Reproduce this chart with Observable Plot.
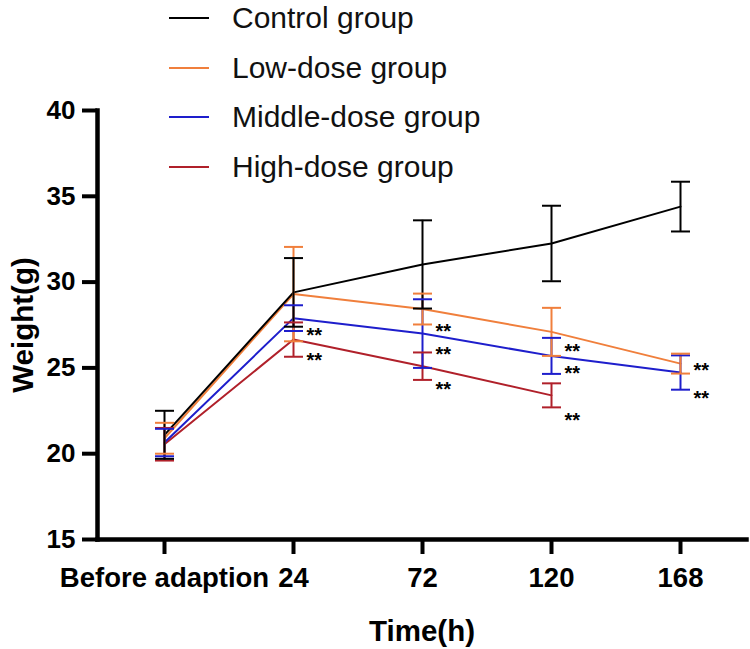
<!DOCTYPE html>
<html>
<head>
<meta charset="utf-8">
<script src="https://cdn.jsdelivr.net/npm/d3@7"></script>
<script src="https://cdn.jsdelivr.net/npm/@observablehq/plot@0.6"></script>
<style>
  html, body { margin: 0; padding: 0; background: #fff; }
  #wrap { position: relative; width: 750px; height: 649px; font-family: "Liberation Sans", Arial, sans-serif; }
  #legend { position: absolute; left: 169px; top: -7px; }
  .row { display: flex; align-items: center; height: 49.7px; }
  .sw { width: 40px; height: 2px; margin-right: 23px; }
  .lab { font-size: 30px; color: #111; white-space: nowrap; }
  [aria-label="x-axis label"] text, [aria-label="y-axis label"] text { font-size: 29.5px; }
</style>
</head>
<body>
<div id="wrap"></div>
<script>
const times = ["Before adaption", "24", "72", "120", "168"];
const groups = ["Control group", "Low-dose group", "Middle-dose group", "High-dose group"];
const colors = ["#000000", "#F07F3C", "#1E1ECC", "#B0202A"];

const controlMean = [21.1, 29.4, 31.03, 32.25, 34.4];
const controlSD   = [1.4, 2.0, 2.57, 2.2, 1.45];
const lowMean     = [20.9, 29.3, 28.43, 27.1, 25.25];
const lowSD       = [0.9, 2.75, 0.9, 1.4, 0.58];
const middleMean  = [20.65, 27.9, 27.0, 25.7, 24.73];
const middleSD    = [0.8, 0.75, 2.0, 1.05, 1.0];
const highMean    = [20.55, 26.65, 25.1, 23.4];
const highSD      = [0.95, 1.0, 0.8, 0.7];

const starTimes  = ["24", "24", "72", "72", "72", "120", "120", "120", "168", "168"];
const starValues = [27.18, 25.72, 27.41, 26.07, 24.03, 26.25, 24.97, 22.23, 25.14, 23.5];

const yTicks = [15, 20, 25, 30, 35, 40];

// Build rows; drawing order High -> Middle -> Low -> Control (Control on top)
const series = [
  [groups[3], highMean, highSD],
  [groups[2], middleMean, middleSD],
  [groups[1], lowMean, lowSD],
  [groups[0], controlMean, controlSD]
];
const rows = [];
for (const [g, means, sds] of series) {
  means.forEach((m, i) => rows.push({time: times[i], group: g, mean: m, sd: sds[i]}));
}
const stars = starTimes.map((t, i) => ({time: t, value: starValues[i]}));

const capSymbol = {
  draw(ctx, size) {
    const r = Math.sqrt(size / Math.PI);
    ctx.moveTo(-r, 0);
    ctx.lineTo(r, 0);
  }
};

const chart = Plot.plot({
  width: 750,
  height: 649,
  marginLeft: 97,
  marginRight: 4,
  marginTop: 110,
  marginBottom: 110,
  style: {fontFamily: "'Liberation Sans', Arial, sans-serif", background: "#fff", color: "#000", overflow: "visible"},
  x: {type: "point", domain: times, padding: 0.5},
  y: {domain: [15, 40]},
  color: {domain: groups, range: colors},
  marks: [
    Plot.axisX({tickSize: 15, tickPadding: 13, fontSize: 27.5, fontWeight: "bold", strokeWidth: 4,
      label: "Time(h)", labelAnchor: "center", labelOffset: 101}),
    Plot.axisY({ticks: yTicks, tickSize: 15, tickPadding: 7, fontSize: 26, fontWeight: "bold", strokeWidth: 4,
      label: "Weight(g)", labelAnchor: "center", labelOffset: 85, labelArrow: "none"}),
    Plot.frame({anchor: "left", strokeWidth: 4.5}),
    Plot.frame({anchor: "bottom", strokeWidth: 4.5}),
    Plot.line(rows, {x: "time", y: "mean", z: "group", stroke: "group", strokeWidth: 2}),
    Plot.ruleX(rows, {x: "time", y1: d => d.mean - d.sd, y2: d => d.mean + d.sd, stroke: "group", strokeWidth: 2}),
    Plot.dot(rows, {x: "time", y: d => d.mean + d.sd, symbol: capSymbol, r: 9.5, stroke: "group", fill: "none", strokeWidth: 2}),
    Plot.dot(rows, {x: "time", y: d => d.mean - d.sd, symbol: capSymbol, r: 9.5, stroke: "group", fill: "none", strokeWidth: 2}),
    Plot.text(stars, {x: "time", y: "value", text: () => "**", textAnchor: "start", dx: 13, dy: 5, fontSize: 20, fontWeight: "bold", fill: "#000"})
  ]
});

const wrap = document.getElementById("wrap");
wrap.appendChild(chart);

const legend = document.createElement("div");
legend.id = "legend";
groups.forEach((g, i) => {
  const row = document.createElement("div");
  row.className = "row";
  const sw = document.createElement("div");
  sw.className = "sw";
  sw.style.background = colors[i];
  const lab = document.createElement("div");
  lab.className = "lab";
  lab.textContent = g;
  row.appendChild(sw);
  row.appendChild(lab);
  legend.appendChild(row);
});
wrap.appendChild(legend);
</script>
</body>
</html>
